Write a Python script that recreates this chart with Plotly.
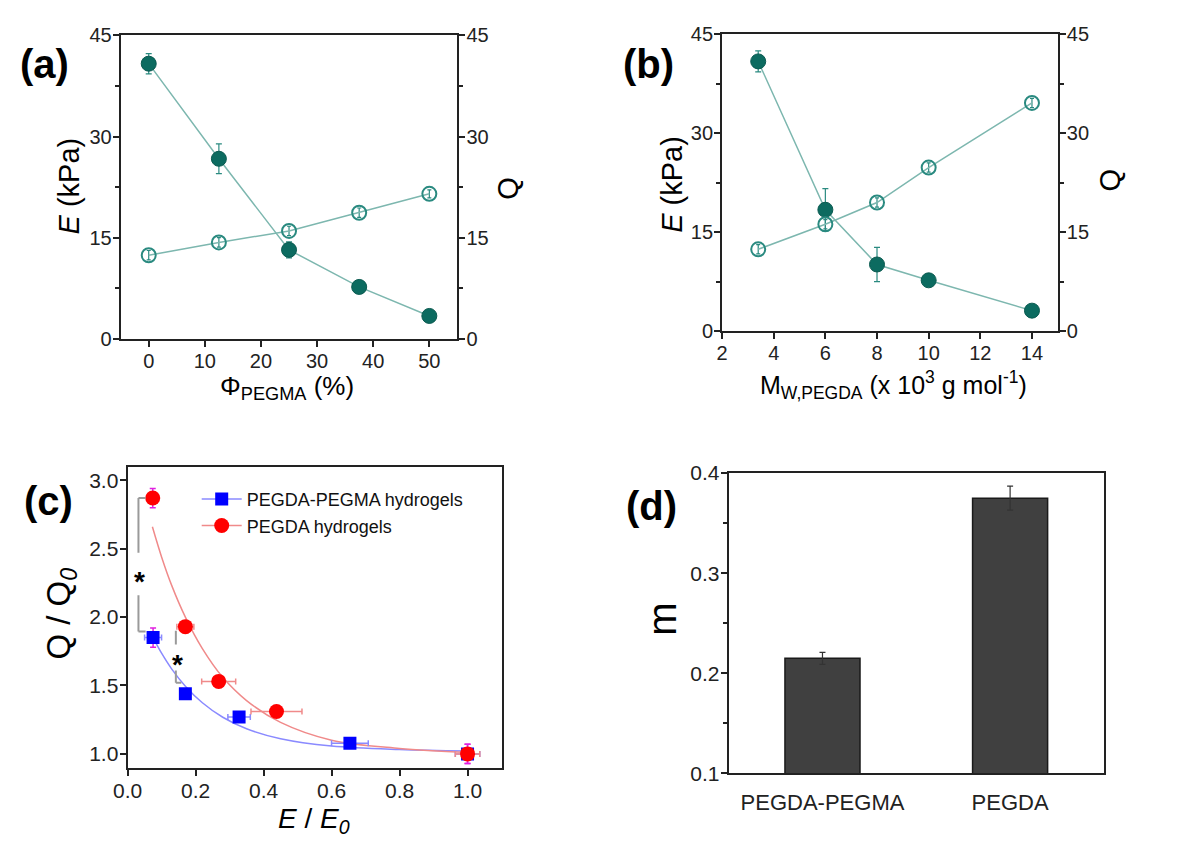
import plotly.graph_objects as go

# ---------------- data ----------------
# (a) modulus E and swelling Q vs PEGMA fraction
phi_pegma = [0, 12.5, 25, 37.5, 50]
E_a = [40.8, 26.7, 13.2, 7.7, 3.4]
E_a_err = [1.5, 2.2, 1.2, 0.5, 0.4]
Q_a = [12.4, 14.3, 16.0, 18.7, 21.5]
Q_a_err = [0.7, 0.7, 0.7, 0.7, 0.6]

# (b) modulus E and swelling Q vs PEGDA molecular weight (x 10^3 g/mol)
mw_pegda = [3.4, 6, 8, 10, 14]
E_b = [40.9, 18.4, 10.1, 7.7, 3.1]
E_b_err = [1.6, 3.2, 2.6, 0.5, 0.3]
Q_b = [12.4, 16.2, 19.5, 24.8, 34.6]
Q_b_err = [0.7, 0.7, 0.7, 0.7, 0.7]

# (c) normalised swelling vs normalised modulus
ee0_pm = [0.075, 0.17, 0.328, 0.654, 1.0]
ee0_pm_err = [0.025, 0.0, 0.033, 0.054, 0.036]
qq0_pm = [1.85, 1.44, 1.27, 1.078, 1.0]
qq0_pm_err = [0.07, 0.0, 0.02, 0.02, 0.07]

ee0_p = [0.074, 0.170, 0.268, 0.438, 1.0]
ee0_p_err = [0.0, 0.025, 0.05, 0.075, 0.036]
qq0_p = [2.87, 1.93, 1.53, 1.31, 1.0]
qq0_p_err = [0.07, 0.0, 0.0, 0.0, 0.07]

# fitted decay curves (sampled along the drawn fits)
fit_x_pm = [0.075, 0.10, 0.13, 0.17, 0.22, 0.28, 0.35, 0.45, 0.60, 0.80, 1.00]
fit_y_pm = [1.85, 1.736, 1.62, 1.495, 1.374, 1.268, 1.184, 1.111, 1.058, 1.032, 1.021]
fit_x_p = [0.073, 0.10, 0.13, 0.17, 0.22, 0.28, 0.35, 0.45, 0.60, 0.80, 1.00]
fit_y_p = [2.66, 2.44, 2.23, 2.00, 1.77, 1.56, 1.39, 1.23, 1.10, 1.04, 1.01]

legend_names = ["PEGDA-PEGMA hydrogels", "PEGDA hydrogels"]

# (d) exponent m
groups = ["PEGDA-PEGMA", "PEGDA"]
m_vals = [0.215, 0.375]
m_err = [0.006, 0.012]

# ---------------- styling ----------------
FONT = "Liberation Sans, Arial, sans-serif"
INK = "#222222"
TEAL = "#0c6b60"
TEAL_LINE = "#7db7af"
TEAL_OPEN = "#2a8a80"
RED = "#ff0000"
RED_LINE = "#f08a8a"
BLUE = "#0000ff"
BLUE_LINE = "#8a8aff"
MAGENTA = "#e020e0"
GRAY = "#9a9a9a"

W, H = 1200, 846


def px_x(v):
    return v / W


def px_y(v):
    return 1 - v / H


def axis(size=20, **kw):
    base = dict(
        showline=True, linewidth=2, linecolor=INK,
        ticks="outside", ticklen=6, tickwidth=2, tickcolor=INK,
        tickfont=dict(size=size, color=INK, family=FONT),
        ticklabelstandoff=-3,
        showgrid=False, zeroline=False,
    )
    base.update(kw)
    return base


fig = go.Figure()

# ---- (a) ----
fig.add_trace(go.Scatter(
    x=phi_pegma, y=E_a, mode="lines+markers", xaxis="x", yaxis="y",
    line=dict(color=TEAL_LINE, width=1.5),
    marker=dict(color=TEAL, size=15, line=dict(color="#0a5a50", width=1)),
    error_y=dict(type="data", array=E_a_err, color=TEAL_OPEN, thickness=1.2, width=3),
    showlegend=False,
))
fig.add_trace(go.Scatter(
    x=phi_pegma, y=Q_a, mode="lines+markers", xaxis="x", yaxis="y2",
    line=dict(color=TEAL_LINE, width=1.5),
    marker=dict(symbol="circle-open", color=TEAL_OPEN, size=14, line=dict(width=2)),
    error_y=dict(type="data", array=Q_a_err, color=TEAL_OPEN, thickness=1.2, width=2),
    showlegend=False,
))

# ---- (b) ----
fig.add_trace(go.Scatter(
    x=mw_pegda, y=E_b, mode="lines+markers", xaxis="x2", yaxis="y3",
    line=dict(color=TEAL_LINE, width=1.5),
    marker=dict(color=TEAL, size=15, line=dict(color="#0a5a50", width=1)),
    error_y=dict(type="data", array=E_b_err, color=TEAL_OPEN, thickness=1.2, width=3),
    showlegend=False,
))
fig.add_trace(go.Scatter(
    x=mw_pegda, y=Q_b, mode="lines+markers", xaxis="x2", yaxis="y4",
    line=dict(color=TEAL_LINE, width=1.5),
    marker=dict(symbol="circle-open", color=TEAL_OPEN, size=14, line=dict(width=2)),
    error_y=dict(type="data", array=Q_b_err, color=TEAL_OPEN, thickness=1.2, width=2),
    showlegend=False,
))

# ---- (c) ----
fig.add_trace(go.Scatter(
    x=fit_x_pm, y=fit_y_pm, mode="lines", xaxis="x3", yaxis="y5",
    line=dict(color=BLUE_LINE, width=1.5, shape="spline"), showlegend=False,
))
fig.add_trace(go.Scatter(
    x=fit_x_p, y=fit_y_p, mode="lines", xaxis="x3", yaxis="y5",
    line=dict(color=RED_LINE, width=1.5, shape="spline"), showlegend=False,
))
fig.add_trace(go.Scatter(
    x=ee0_pm, y=qq0_pm, mode="markers", xaxis="x3", yaxis="y5",
    marker=dict(symbol="square", color=BLUE, size=13),
    error_x=dict(type="data", array=ee0_pm_err, color=BLUE_LINE, thickness=1.5, width=3),
    error_y=dict(type="data", array=qq0_pm_err, color=MAGENTA, thickness=1.5, width=3),
    showlegend=False,
))
fig.add_trace(go.Scatter(
    x=ee0_p, y=qq0_p, mode="markers", xaxis="x3", yaxis="y5",
    marker=dict(symbol="circle", color=RED, size=15),
    error_x=dict(type="data", array=ee0_p_err, color=RED_LINE, thickness=1.5, width=3),
    error_y=dict(type="data", array=qq0_p_err, color=MAGENTA, thickness=1.5, width=3),
    showlegend=False,
))
# legend entries (line + symbol)
fig.add_trace(go.Scatter(
    x=[None], y=[None], mode="lines+markers", xaxis="x3", yaxis="y5",
    name=legend_names[0], line=dict(color=BLUE_LINE, width=1.5),
    marker=dict(symbol="square", color=BLUE, size=13),
))
fig.add_trace(go.Scatter(
    x=[None], y=[None], mode="lines+markers", xaxis="x3", yaxis="y5",
    name=legend_names[1], line=dict(color=RED_LINE, width=1.5),
    marker=dict(symbol="circle", color=RED, size=15),
))

# ---- (d) ----
fig.add_trace(go.Bar(
    x=groups, y=m_vals, xaxis="x4", yaxis="y6", width=0.4,
    marker=dict(color="#404040", line=dict(color="#1a1a1a", width=1.5)),
    error_y=dict(type="data", array=m_err, color="#333333", thickness=1.2, width=3),
    showlegend=False,
))

# significance brackets in (c), spanning the compared points
br1_x, br1_tick = 0.032, 0.053
br1_top, br1_bot = qq0_p[0], qq0_pm[0] + 0.045
br1_gap = (2.47, 2.16)
br1_star = 2.32
br2_x, br2_tick = 0.142, 0.158
br2_top, br2_bot = qq0_p[1] - 0.03, qq0_pm[1] + 0.08
br2_gap = (1.80, 1.61)
br2_star = 1.71

shapes = []
for seg in [
    (br1_x, br1_top, br1_tick, br1_top),
    (br1_x, br1_top, br1_x, br1_gap[0]),
    (br1_x, br1_gap[1], br1_x, br1_bot),
    (br1_x, br1_bot, br1_tick, br1_bot),
    (br2_x, br2_top, br2_x, br2_gap[0]),
    (br2_x, br2_gap[1], br2_x, br2_bot),
    (br2_x, br2_bot, br2_tick, br2_bot),
]:
    shapes.append(dict(type="line", xref="x3", yref="y5",
                       x0=seg[0], y0=seg[1], x1=seg[2], y1=seg[3],
                       line=dict(color=GRAY, width=2)))

annotations = []


def ann(text, x, y, size, angle=0, xanchor="center", yanchor="middle",
        bold=False, xref="paper", yref="paper", yshift=0):
    if bold:
        text = "<b>" + text + "</b>"
    annotations.append(dict(
        text=text, x=x if xref != "paper" else px_x(x),
        y=y if yref != "paper" else px_y(y),
        xref=xref, yref=yref, showarrow=False, textangle=angle,
        xanchor=xanchor, yanchor=yanchor, yshift=yshift,
        font=dict(size=size, color="#000000", family=FONT),
    ))


# stars
ann("*", br1_x + 0.004, br1_star, 28, bold=True, xref="x3", yref="y5", yshift=-8)
ann("*", br2_x + 0.006, br2_star, 28, bold=True, xref="x3", yref="y5", yshift=-8)

# panel labels
ann("(a)", 30, 53, 40, bold=True)
ann("(b)", 642, 53, 40, bold=True)
ann("(c)", 34, 503, 40, bold=True)
ann("(d)", 645, 508, 40, bold=True)

# axis titles
ann("<i>E</i> (kPa)", 55, 179, 29, angle=-90)
ann("Q", 499, 181, 29, angle=-90)
ann("Φ<sub>PEGMA</sub> (%)", 275, 386, 26)
ann("<i>E</i> (kPa)", 666, 177, 29, angle=-90)
ann("Q", 1109, 173, 29, angle=-90)
ann("M<sub>W,PEGDA</sub> (x 10<sup>3</sup> g mol<sup>-1</sup>)", 890, 383, 25)
ann("Q / Q<sub><i>0</i></sub>", 47, 618, 33, angle=-90)
ann("<i>E</i> / <i>E</i><sub><i>0</i></sub>", 303, 831, 28)
ann("m", 655, 624, 40, angle=-90)

minor_a = dict(ticks="outside", ticklen=4, tickwidth=1.5, tickcolor=INK, dtick=7.5)
minor_d = dict(ticks="outside", ticklen=4, tickwidth=1.5, tickcolor=INK, dtick=0.05)

fig.update_layout(
    width=W, height=H,
    margin=dict(l=0, r=0, t=0, b=0),
    paper_bgcolor="white", plot_bgcolor="white",
    font=dict(family=FONT, color=INK),
    shapes=shapes, annotations=annotations,
    showlegend=True,
    legend=dict(x=px_x(184), y=px_y(482), xanchor="left", yanchor="top",
                bgcolor="rgba(0,0,0,0)", font=dict(size=18, color="#111111", family=FONT),
                tracegroupgap=0, itemwidth=40),
    # (a)
    xaxis=axis(domain=[px_x(107), px_x(448)], anchor="y", range=[-5, 55],
               tickvals=[0, 10, 20, 30, 40, 50], mirror=True),
    yaxis=axis(domain=[px_y(336), px_y(24)], anchor="x", range=[0, 45],
               tickvals=[0, 15, 30, 45], minor=minor_a),
    yaxis2=axis(overlaying="y", side="right", anchor="x", range=[0, 45],
                tickvals=[0, 15, 30, 45], minor=minor_a),
    # (b)
    xaxis2=axis(domain=[px_x(716), px_x(1056)], anchor="y3", range=[2, 15],
                tickvals=[2, 4, 6, 8, 10, 12, 14], mirror=True),
    yaxis3=axis(domain=[px_y(328), px_y(23)], anchor="x2", range=[0, 45],
                tickvals=[0, 15, 30, 45], minor=minor_a),
    yaxis4=axis(overlaying="y3", side="right", anchor="x2", range=[0, 45],
                tickvals=[0, 15, 30, 45], minor=minor_a),
    # (c)
    xaxis3=axis(size=21, domain=[px_x(114), px_x(492.7)], anchor="y5", range=[0, 1.1],
                tickvals=[0, 0.2, 0.4, 0.6, 0.8, 1.0], tickformat=".1f", mirror=True),
    yaxis5=axis(size=21, domain=[px_y(776.7), px_y(467.3)], anchor="x3", range=[0.9, 3.1],
                tickvals=[1.0, 1.5, 2.0, 2.5, 3.0], tickformat=".1f", mirror=True),
    # (d)
    xaxis4=axis(size=22, domain=[px_x(722.7), px_x(1102.7)], anchor="y6", type="category",
                range=[-0.5, 1.5], ticks="", mirror=True, ticklabelstandoff=8),
    yaxis6=axis(size=21, domain=[px_y(782.7), px_y(474)], anchor="x4", range=[0.1, 0.4],
                tickvals=[0.1, 0.2, 0.3, 0.4], tickformat=".1f", mirror=True, minor=minor_d),
)

fig.write_html("out.html")
